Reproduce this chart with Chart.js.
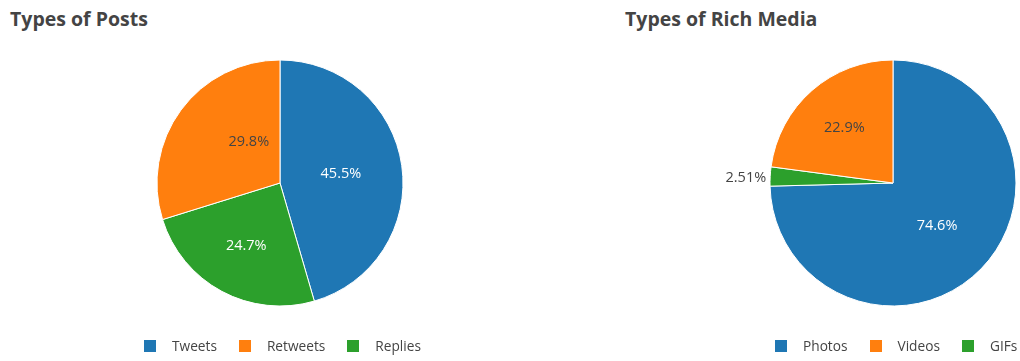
<!DOCTYPE html>
<html>
<head>
<meta charset="utf-8">
<script src="https://cdn.jsdelivr.net/npm/chart.js@4.4.0/dist/chart.umd.min.js"></script>
<style>
  body { margin: 0; background: #fff; width: 1020px; height: 361px; overflow: hidden; position: relative; font-family: "Open Sans", sans-serif; }
  .title { position: absolute; top: 5px; font-size: 19.5px; font-weight: 700; color: #444; }
  .box { position: absolute; top: 0; height: 361px; }
  .legend { position: absolute; top: 337px; display: flex; font-size: 13.7px; color: #444; line-height: 18px; }
  .legend span.item { display: flex; align-items: center; margin-right: 22px; }
  .legend i { display: inline-block; width: 12px; height: 12px; margin-right: 16px; }
</style>
</head>
<body>
<div class="title" style="left:10px">Types of Posts</div>
<div class="title" style="left:625px">Types of Rich Media</div>
<div class="box" style="left:30px;width:500px"><canvas id="posts"></canvas></div>
<div class="box" style="left:640px;width:380px"><canvas id="media"></canvas></div>
<div class="legend" id="postsLegend" style="left:144px"></div>
<div class="legend" id="mediaLegend" style="left:775px"></div>
<script>
// legend order
const postLabels = ['Tweets', 'Retweets', 'Replies'];
const postValues = [45.5, 29.8, 24.7];
const mediaLabels = ['Photos', 'Videos', 'GIFs'];
const mediaValues = [74.6, 22.9, 2.51];
const colors = ['#1f77b4', '#ff7f0e', '#2ca02c'];
// clockwise from 12 o'clock
const sliceOrder = [0, 2, 1];

// draws percent text on each slice
const sliceText = {
  id: 'sliceText',
  afterDatasetsDraw(chart, args, opts) {
    const ctx = chart.ctx;
    const meta = chart.getDatasetMeta(0);
    const ds = chart.data.datasets[0];
    ctx.save();
    ctx.font = '14.5px "Open Sans", sans-serif';
    meta.data.forEach((arc, i) => {
      const p = arc.getProps(['x', 'y', 'startAngle', 'endAngle', 'outerRadius'], true);
      const mid = (p.startAngle + p.endAngle) / 2 + (opts.nudge[i] || 0) * Math.PI / 180;
      const txt = ds.data[i] + '%';
      const f = opts.fracs[i];
      ctx.textBaseline = 'middle';
      if (f > 1) {
        const r = p.outerRadius + 4;
        ctx.fillStyle = '#444';
        ctx.textAlign = 'right';
        ctx.fillText(txt, p.x + Math.cos(mid) * r, p.y + Math.sin(mid) * r + 2);
      } else {
        const r = p.outerRadius * f;
        ctx.fillStyle = opts.textColors[i];
        ctx.textAlign = 'center';
        ctx.fillText(txt, p.x + Math.cos(mid) * r, p.y + Math.sin(mid) * r);
      }
    });
    ctx.restore();
  }
};

function buildLegend(chart, labels, el) {
  const items = chart.options.plugins.legend.labels.generateLabels(chart);
  items.sort((a, b) => labels.indexOf(a.text) - labels.indexOf(b.text));
  items.forEach(it => {
    const s = document.createElement('span');
    s.className = 'item';
    const b = document.createElement('i');
    b.style.background = it.fillStyle;
    s.appendChild(b);
    s.appendChild(document.createTextNode(it.text));
    el.appendChild(s);
  });
}

function makePie(id, labels, values, fracs, nudge, padLeft) {
  const lbl = sliceOrder.map(i => labels[i]);
  const val = sliceOrder.map(i => values[i]);
  const col = sliceOrder.map(i => colors[i]);
  const txtCol = col.map(c => c === '#ff7f0e' ? '#444' : '#fff');
  const chart = new Chart(document.getElementById(id), {
    type: 'pie',
    data: {
      labels: lbl,
      datasets: [{
        data: val,
        backgroundColor: col,
        borderColor: '#fff',
        borderWidth: 1,
        radius: 123
      }]
    },
    plugins: [sliceText],
    options: {
      responsive: true,
      maintainAspectRatio: false,
      animation: false,
      layout: { padding: { top: 59, bottom: 54, left: padLeft, right: 0 } },
      plugins: {
        tooltip: { enabled: false },
        sliceText: { fracs: fracs, nudge: nudge, textColors: txtCol },
        legend: { display: false }
      }
    }
  });
  buildLegend(chart, labels, document.getElementById(id + 'Legend'));
  return chart;
}

makePie('posts', postLabels, postValues, [0.5, 0.58, 0.42], [0, 0, 16.5], 0);
makePie('media', mediaLabels, mediaValues, [0.5, 2, 0.6], [0, 0, 0], 126);
</script>
</body>
</html>
